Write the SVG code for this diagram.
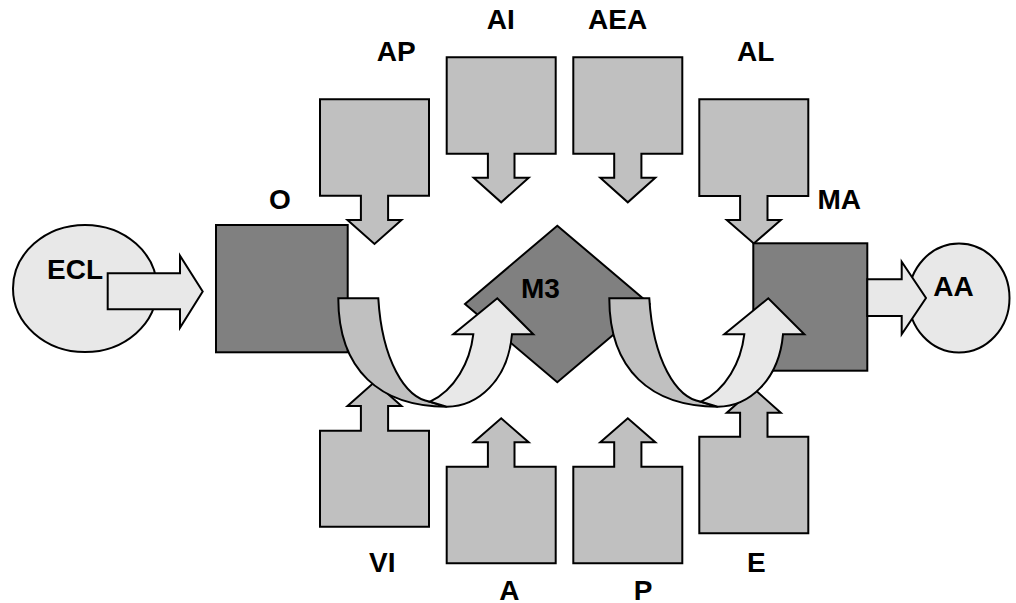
<svg xmlns="http://www.w3.org/2000/svg" xmlns:xlink="http://www.w3.org/1999/xlink" width="1016" height="603" viewBox="0 0 1016 603">
<style>
.blk{fill:#C0C0C0;stroke:#000;stroke-width:2;stroke-linejoin:miter}
.dark{fill:#808080;stroke:#000;stroke-width:2}
.pale{fill:#E8E8E8;stroke:#000;stroke-width:2}
.band{fill:#C0C0C0;stroke:#000;stroke-width:2}
.lbl{font-family:"Liberation Sans",Arial,sans-serif;font-weight:bold;font-size:28px;fill:#000}
</style>
<defs>
<g id="curved">
<path class="band" d="M338.3,298.3 C338.3,370 380,406.7 446.7,406.7 L430,401.7 C405,398 382,360 378.3,298.3 Z"/>
<path class="pale" d="M446.7,406.7 C478,406.7 508,380 512,334.3 L533.3,334.3 L497.3,298.3 L453.3,334.3 L473.3,334.3 C470,362 455,390 430,401.7 L446.7,406.7 Z"/>
</g>
</defs>
<rect width="1016" height="603" fill="#fff"/>
<g id="AP"><path class="blk" d="M320,99.3 H429 V195.7 H388.1 V220 H401.5 L374.5,244 L347.5,220 H360.9 V195.7 H320 Z"/><text class="lbl" x="376.7" y="60.7">AP</text></g>
<g id="AI"><path class="blk" d="M446.7,57.3 H555.7 V153.7 H514.5 V177.7 H528.7 L501.2,202.3 L473.7,177.7 H487.9 V153.7 H446.7 Z"/><text class="lbl" x="486.7" y="29">AI</text></g>
<g id="AEA"><path class="blk" d="M573.3,57.3 H682.3 V153.7 H641.4 V177.7 H655.3 L627.8,202.3 L600.3,177.7 H614.2 V153.7 H573.3 Z"/><text class="lbl" x="588" y="29">AEA</text></g>
<g id="AL"><path class="blk" d="M699.3,99.3 H808.3 V196 H767.5 V220 H780.8 L753.8,243.5 L726.8,220 H740.1 V196 H699.3 Z"/><text class="lbl" x="737" y="61">AL</text></g>
<g id="VI"><path class="blk" d="M320,526.7 H429 V430.7 H388.1 V406 H401.5 L374.5,382 L347.5,406 H360.9 V430.7 H320 Z"/><text class="lbl" x="369" y="571.7">VI</text></g>
<g id="A"><path class="blk" d="M446.7,563.3 H555.7 V466.7 H514.5 V442.3 H528.7 L501.2,418.3 L473.7,442.3 H487.9 V466.7 H446.7 Z"/><text class="lbl" x="499.3" y="600">A</text></g>
<g id="P"><path class="blk" d="M573.3,563.3 H682.3 V466.7 H641.4 V442.3 H655.3 L627.8,418.3 L600.3,442.3 H614.2 V466.7 H573.3 Z"/><text class="lbl" x="633.7" y="600">P</text></g>
<g id="E"><path class="blk" d="M699.3,533.3 H808.3 V436.7 H767.5 V412.7 H780.8 L753.8,388.7 L726.8,412.7 H740.1 V436.7 H699.3 Z"/><text class="lbl" x="747" y="571.7">E</text></g>
<g id="O"><rect class="dark" x="216" y="225" width="131.7" height="127.3"/><text class="lbl" x="269" y="209">O</text></g>
<g id="MA"><rect class="dark" x="753.3" y="243.3" width="114" height="127.4"/><text class="lbl" x="817.5" y="209.3">MA</text></g>
<g id="M3"><path class="dark" d="M557.3,225.7 L649.6,304 L557.3,382.3 L465,304 Z"/><text class="lbl" x="521" y="298.3">M3</text></g>
<g id="ECL"><ellipse class="pale" cx="85" cy="288.5" rx="72" ry="63.5"/><text class="lbl" x="47" y="279">ECL</text></g>
<g id="AA"><ellipse class="pale" cx="959" cy="298" rx="50.5" ry="54.5"/><text class="lbl" x="933.3" y="296">AA</text></g>
<g id="connectors">
<path class="pale" d="M107.7,273.3 H180 V255.7 L202.7,291.5 L180,327.7 V309.3 H107.7 Z"/>
<path class="pale" d="M867.3,279.3 H901.7 V261.7 L926,298 L901.7,334.3 V316 H867.3 Z"/>
<use xlink:href="#curved"/>
<use xlink:href="#curved" transform="translate(271,0)"/>
</g>
</svg>
